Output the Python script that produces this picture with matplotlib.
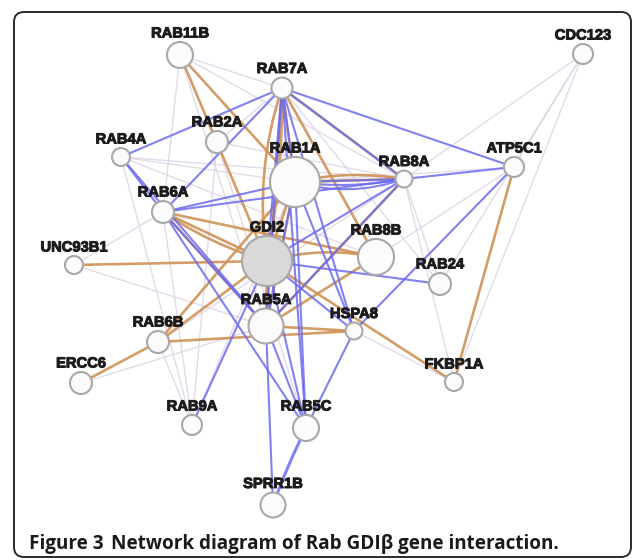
import matplotlib
matplotlib.use("Agg")
import matplotlib.pyplot as plt
import matplotlib.patheffects as pe
from matplotlib.patches import Circle, FancyArrowPatch, FancyBboxPatch

# node layout (pixel space of the original figure) and node sizes
names = ["RAB11B", "CDC123", "RAB7A", "RAB2A", "RAB4A", "RAB1A", "RAB8A", "ATP5C1",
         "RAB6A", "GDI2", "UNC93B1", "RAB8B", "RAB24", "RAB5A", "HSPA8", "RAB6B",
         "ERCC6", "FKBP1A", "RAB9A", "RAB5C", "SPRR1B"]
node_x = [180, 583, 282, 217, 121, 295, 404, 514, 163, 267, 74, 376, 440, 266, 354, 158,
          81, 454, 192, 306, 273]
node_y = [55, 54, 88, 142, 157, 182, 179, 167, 212, 261, 265, 257, 284, 326, 331, 342,
          383, 382, 425, 428, 505]
node_r = [13, 10, 10.5, 11, 9, 25, 8.5, 10, 11, 25, 9, 18, 11, 17.5, 8.5, 11,
          11, 9, 10, 13, 12.5]
query = ["GDI2"]

# orange edges (shared pathway style links)
orange_edges = [("RAB11B", "RAB1A"), ("RAB11B", "GDI2"),
                ("RAB7A", "RAB8A"), ("RAB7A", "RAB8B"), ("RAB7A", "RAB5A"),
                ("RAB7A", "RAB1A"), ("RAB1A", "RAB8A"), ("RAB1A", "GDI2"),
                ("RAB1A", "RAB5A"), ("RAB6A", "GDI2"), ("RAB6A", "RAB5A"),
                ("RAB6A", "RAB8B"), ("UNC93B1", "GDI2"), ("GDI2", "FKBP1A"),
                ("GDI2", "RAB5A"), ("GDI2", "RAB6B"), ("RAB6B", "ERCC6"),
                ("RAB6B", "RAB1A"), ("RAB6B", "HSPA8"), ("RAB5A", "RAB8B"),
                ("RAB5A", "HSPA8"), ("RAB5A", "RAB8A"), ("ATP5C1", "FKBP1A")]
orange_curved = [("RAB7A", "GDI2", 0.12), ("RAB7A", "GDI2", -0.05),
                 ("GDI2", "RAB8B", -0.12), ("RAB6A", "GDI2", 0.08),
                 ("RAB1A", "RAB8A", -0.1)]

# blue edges
blue_edges = [("RAB7A", "RAB4A"), ("RAB7A", "ATP5C1"), ("RAB7A", "RAB6A"),
              ("RAB7A", "GDI2"), ("RAB7A", "RAB1A"), ("RAB7A", "RAB5A"),
              ("RAB7A", "RAB5C"), ("RAB7A", "HSPA8"), ("RAB7A", "RAB8A"),
              ("RAB4A", "RAB6A"), ("RAB4A", "RAB5A"), ("RAB6A", "RAB1A"),
              ("RAB6A", "RAB8A"), ("RAB6A", "RAB5C"), ("RAB6A", "RAB5A"),
              ("RAB1A", "RAB8A"), ("RAB1A", "RAB5C"), ("RAB1A", "HSPA8"),
              ("RAB1A", "RAB5A"), ("RAB8A", "GDI2"), ("RAB8A", "RAB5A"),
              ("RAB8A", "ATP5C1"), ("ATP5C1", "HSPA8"), ("GDI2", "RAB24"),
              ("GDI2", "RAB5C"), ("GDI2", "RAB9A"), ("GDI2", "HSPA8"),
              ("RAB5A", "RAB5C"), ("RAB5A", "SPRR1B"), ("RAB5C", "HSPA8")]
blue_curved = [("RAB1A", "RAB8A", 0.08), ("RAB1A", "RAB8A", 0.16), ("RAB5C", "SPRR1B", 0.03)]

# faint edges
faint_edges = [("CDC123", "RAB8A"), ("CDC123", "ATP5C1"), ("CDC123", "FKBP1A"),
               ("CDC123", "RAB24"), ("RAB11B", "RAB7A"), ("RAB11B", "RAB8A"),
               ("RAB11B", "RAB5A"), ("RAB11B", "RAB6A"), ("RAB4A", "RAB1A"),
               ("RAB4A", "RAB8A"), ("RAB4A", "RAB9A"), ("RAB4A", "RAB8B"),
               ("RAB2A", "RAB8A"), ("RAB2A", "RAB9A"), ("RAB2A", "RAB7A"),
               ("RAB2A", "RAB5C"), ("UNC93B1", "RAB6A"), ("UNC93B1", "RAB5A"),
               ("RAB6B", "RAB9A"), ("RAB6B", "RAB8A"), ("ERCC6", "RAB5A"),
               ("RAB8A", "FKBP1A"), ("RAB8A", "RAB24"), ("ATP5C1", "RAB8B"),
               ("ATP5C1", "RAB1A"), ("HSPA8", "FKBP1A"), ("RAB9A", "RAB1A"),
               ("RAB6A", "RAB9A"), ("RAB7A", "RAB24")]

caption_bold = "Figure 3"
caption_rest = "Network diagram of Rab GDI\u03b2 gene interaction."

pos = {n: (x, y) for n, x, y in zip(names, node_x, node_y)}

fig = plt.figure(figsize=(6.33, 5.6), dpi=100)
ax = fig.add_axes([0, 0, 1, 1])
ax.set_xlim(0, 633)
ax.set_ylim(560, 0)
ax.axis("off")

# rounded frame
frame = FancyBboxPatch((14, 12), 617, 545, boxstyle="round,pad=0,rounding_size=10",
                       fc="white", ec="#2a2a2a", lw=1.4, zorder=0)
ax.add_patch(frame)


def draw_edge(a, b, color, lw, alpha, rad=0.0, z=1):
    p = FancyArrowPatch(pos[a], pos[b], arrowstyle="-", connectionstyle=f"arc3,rad={rad}",
                        color=color, lw=lw, alpha=alpha, zorder=z,
                        shrinkA=0, shrinkB=0)
    ax.add_patch(p)


for a, b in faint_edges:
    draw_edge(a, b, "#ddd4e6", 1.0, 0.85, z=1)
for a, b in orange_edges:
    draw_edge(a, b, "#cf9256", 1.9, 0.9, z=2)
for a, b, r in orange_curved:
    draw_edge(a, b, "#cf9256", 1.9, 0.9, rad=r, z=2)
for a, b in blue_edges:
    draw_edge(a, b, "#6b6bf0", 1.5, 0.85, z=3)
for a, b, r in blue_curved:
    draw_edge(a, b, "#6b6bf0", 2.2 if a == "RAB5C" else 1.5, 0.85, rad=r, z=3)

heavy = [pe.withStroke(linewidth=0.7, foreground="#1c1c1c")]
for n, x, y, r in zip(names, node_x, node_y, node_r):
    fc = "#d9d9d9" if n in query else "#fbfbfb"
    ax.add_patch(Circle((x, y), r, fc=fc, ec="#a8a8a8", lw=1.5, zorder=5))
    ax.text(x, y - r - 8.5, n, ha="center", va="center", fontsize=10.6,
            fontweight="bold", family="Liberation Sans", color="#1c1c1c", zorder=6,
            path_effects=heavy)

t1 = ax.text(29, 549, caption_bold, ha="left", va="baseline", fontsize=13.6,
             fontweight="bold", family="Open Sans", color="#1a1a1a")
fig.canvas.draw()
bb = t1.get_window_extent()
x_end = ax.transData.inverted().transform((bb.x1, bb.y0))[0]
ax.text(x_end + 7, 549, caption_rest, ha="left", va="baseline", fontsize=13.6,
        fontweight="bold", family="Open Sans", color="#1a1a1a")

fig.savefig("out.png", dpi=100)
